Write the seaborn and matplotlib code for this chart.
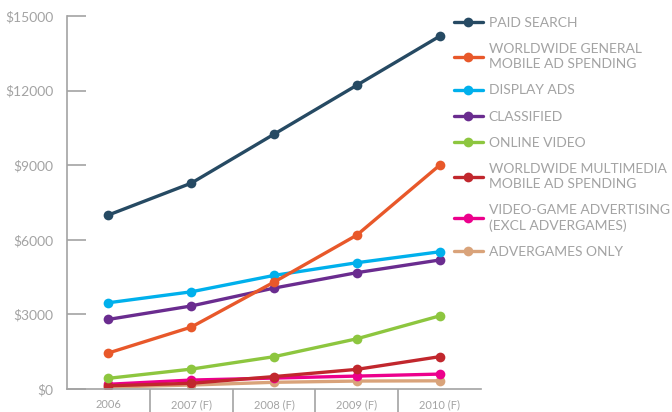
import pandas as pd
import numpy as np
import matplotlib.pyplot as plt
import seaborn as sns

# Data (US$ millions)
years = ["2006", "2007 (F)", "2008 (F)", "2009 (F)", "2010 (F)"]
paid_search = [7000, 8280, 10250, 12220, 14190]
mobile_general = [1450, 2490, 4300, 6190, 9000]
display_ads = [3470, 3910, 4570, 5080, 5520]
classified = [2800, 3340, 4060, 4680, 5190]
online_video = [430, 800, 1300, 2020, 2940]
mobile_multimedia = [130, 230, 500, 790, 1300]
video_game = [190, 360, 440, 520, 600]
advergames = [80, 160, 270, 320, 330]

series = {
    "PAID SEARCH": paid_search,
    "WORLDWIDE GENERAL\nMOBILE AD SPENDING": mobile_general,
    "DISPLAY ADS": display_ads,
    "CLASSIFIED": classified,
    "ONLINE VIDEO": online_video,
    "WORLDWIDE MULTIMEDIA\nMOBILE AD SPENDING": mobile_multimedia,
    "VIDEO-GAME ADVERTISING\n(EXCL ADVERGAMES)": video_game,
    "ADVERGAMES ONLY": advergames,
}
colors = ["#264a63", "#e8582a", "#00b0ec", "#6a2c8f",
          "#8dc63f", "#c1272d", "#ec008c", "#d9a37a"]

rows = []
for name, vals in series.items():
    for i, v in enumerate(vals):
        rows.append({"Series": name, "x": i, "Value": v})
df = pd.DataFrame(rows)

sns.set_style("white")
plt.rcParams["font.family"] = ["Lato", "DejaVu Sans"]
gray = "#a3a3a3"

fig = plt.figure(figsize=(6.72, 4.12), dpi=100)
ax = fig.add_axes([0.0997, 0.0558, 0.616, 0.905])

# draw in reverse so the top series sits above
order = list(series.keys())
palette = dict(zip(order, colors))
for name in reversed(order):
    sub = df[df["Series"] == name]
    sns.lineplot(data=sub, x="x", y="Value", color=palette[name], ax=ax,
                 linewidth=2.4, marker="o", markersize=7, markeredgewidth=0,
                 label=name, legend=False)

ax.set_xlim(-0.5, 4.5)
ax.set_ylim(0, 15000)
ax.set_xlabel("")
ax.set_ylabel("")

for s in ["top", "right"]:
    ax.spines[s].set_visible(False)
for s in ["left", "bottom"]:
    ax.spines[s].set_color(gray)
    ax.spines[s].set_linewidth(1.2)

yt = [0, 3000, 6000, 9000, 12000, 15000]
ax.set_yticks(yt)
ax.set_yticklabels([f"${v}" for v in yt])
ax.tick_params(axis="y", direction="in", length=14, width=1.2, color=gray,
               labelcolor=gray, labelsize=10, pad=10, left=True)

# x ticks at category boundaries, labels centered below categories
ax.set_xticks([0.5, 1.5, 2.5, 3.5])
ax.set_xticklabels([])
ax.tick_params(axis="x", direction="out", length=24, width=1.2, color=gray,
               bottom=True)
for i, lab in enumerate(years):
    ax.text(i, -0.028, lab, transform=ax.get_xaxis_transform(),
            ha="center", va="top", fontsize=8, color=gray)

handles, labels = ax.get_legend_handles_labels()
hl = dict(zip(labels, handles))
leg = fig.legend([hl[n] for n in order], order, loc="upper left",
                 bbox_to_anchor=(0.667, 0.972), frameon=False, fontsize=10,
                 handlelength=2.1, handletextpad=0.42, labelspacing=1.02,
                 borderaxespad=0)
for t in leg.get_texts():
    t.set_color(gray)
    t.set_linespacing(1.3)

fig.savefig("out.png", dpi=100)
